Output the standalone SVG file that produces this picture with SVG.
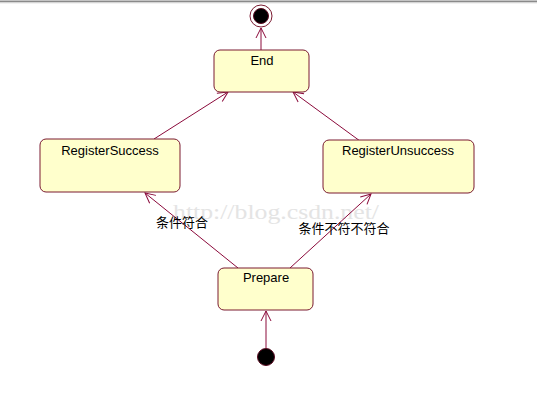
<svg xmlns="http://www.w3.org/2000/svg" width="537" height="406" viewBox="0 0 537 406">
<style>
.state rect{fill:#ffffcc;stroke:#7a1a30;stroke-width:1}
.lbl{font-family:"Liberation Sans",Arial,sans-serif;font-size:13px;fill:#000;text-anchor:middle}
.cn{font-family:"Liberation Sans","Noto Sans CJK SC",sans-serif;font-size:13px;fill:#000;text-anchor:middle}
.edge{stroke:#8b0a3b;stroke-width:1;fill:none;marker-end:url(#open)}
</style>
<defs>
<marker id="open" viewBox="0 0 12 12" refX="11" refY="6" markerWidth="12" markerHeight="12" markerUnits="userSpaceOnUse" orient="auto">
<path d="M1,1 L11,6 L1,11" fill="none" stroke="#8b0a3b" stroke-width="1"/>
</marker>
</defs>
<rect x="0" y="0" width="537" height="406" fill="#ffffff"/>
<line x1="0" y1="1.5" x2="537" y2="1.5" stroke="#8a8a8a" stroke-width="2"/>
<line x1="0" y1="3" x2="537" y2="3" stroke="#e6e6e6" stroke-width="1"/>
<text x="276" y="219" font-family="'Liberation Serif',serif" font-size="22" fill="#e4e4e4" text-anchor="middle" textLength="206" lengthAdjust="spacingAndGlyphs">http://blog.csdn.net/</text>
<g id="connectors">
<line class="edge" x1="266" y1="348" x2="266" y2="311"/>
<line class="edge" x1="238" y1="268" x2="145" y2="193"/>
<line class="edge" x1="290" y1="268" x2="371" y2="194"/>
<line class="edge" x1="154" y1="139" x2="228" y2="92"/>
<line class="edge" x1="360" y1="141" x2="293" y2="92"/>
<line class="edge" x1="261" y1="50" x2="261" y2="28"/>
<text class="cn" x="182" y="227">条件符合</text>
<text class="cn" x="344" y="233">条件不符不符合</text>
</g>
<g id="final">
<circle cx="261" cy="16" r="11" fill="#ffffff" stroke="#7a1a30" stroke-width="1"/>
<circle cx="261" cy="16" r="7.5" fill="#000000" stroke="#5a0a20" stroke-width="1"/>
</g>
<g id="End" class="state">
<rect x="214" y="50" width="95" height="42" rx="6" ry="6"/>
<text class="lbl" x="262" y="65">End</text>
</g>
<g id="RegisterSuccess" class="state">
<rect x="40" y="139" width="140" height="53" rx="6" ry="6"/>
<text class="lbl" x="110" y="155">RegisterSuccess</text>
</g>
<g id="RegisterUnsuccess" class="state">
<rect x="323" y="140" width="151" height="53" rx="6" ry="6"/>
<text class="lbl" x="398" y="155">RegisterUnsuccess</text>
</g>
<g id="Prepare" class="state">
<rect x="218" y="268" width="95" height="42" rx="6" ry="6"/>
<text class="lbl" x="266" y="282">Prepare</text>
</g>
<g id="initial">
<circle cx="266" cy="357" r="8.5" fill="#000000" stroke="#5a0a20" stroke-width="1"/>
</g>
</svg>
